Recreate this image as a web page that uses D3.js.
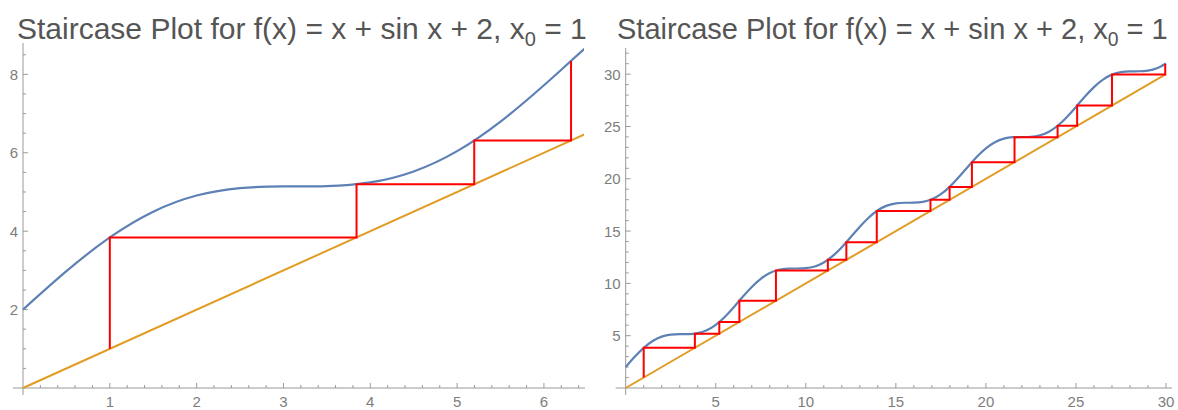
<!DOCTYPE html>
<html><head><meta charset="utf-8">
<script src="https://cdn.jsdelivr.net/npm/d3@7"></script>
<style>
html,body{margin:0;padding:0;background:#fff;}
svg{display:block;}
text{font-family:"Liberation Sans",Arial,sans-serif;}
</style></head>
<body>
<svg id="c" width="1178" height="410"></svg>
<script>
// Sampled curve f(x) = x + sin x + 2 (read values)
const curveX = [0,0.5,1,1.5,2,2.5,3,3.5,4,4.5,5,5.5,6,6.5,7,7.5,8,8.5,9,9.5,10,10.5,11,11.5,12,12.5,13,13.5,14,14.5,15,15.5,16,16.5,17,17.5,18,18.5,19,19.5,20,20.5,21,21.5,22,22.5,23,23.5,24,24.5,25,25.5,26,26.5,27,27.5,28,28.5,29,29.5,30];
const curveY = [2.000,2.979,3.841,4.498,4.909,5.099,5.141,5.149,5.243,5.523,6.041,6.795,7.721,8.715,9.657,10.438,10.989,11.299,11.412,11.425,11.456,11.620,12.000,12.625,13.463,14.434,15.420,16.304,16.991,17.435,17.650,17.707,17.712,17.788,18.039,18.524,19.249,20.162,21.150,22.106,22.913,23.497,23.837,23.972,23.991,24.013,24.154,24.502,25.094,25.909,26.868,27.859,28.763,29.479,29.956,30.199,30.271,30.276,30.336,30.559,31.012];
// Identity line endpoints
const diagX = [0, 30];
// Staircase iterates x0, x1, ...
const iterates = [1,3.8415,5.1973,6.3123,8.3414,11.2252,12.2513,13.9414,16.9222,17.9849,19.2239,21.5896,23.9804,25.0669,27.0011,29.9571,30.9633];
// Titles
const titleMain = "Staircase Plot for f(x) = x + sin x + 2, ";
// Tick labels
const leftXTicks = [1,2,3,4,5,6];
const leftYTicks = [2,4,6,8];
const rightXTicks = [5,10,15,20,25,30];
const rightYTicks = [5,10,15,20,25,30];

const BLUE = "#5e81b5", ORANGE = "#e19c24", RED = "#ff0000";
const AXIS = "#999999", LABEL = "#7d7d7d";

const svg = d3.select("#c");

function panel(cfg) {
  const x = d3.scaleLinear().domain([0, cfg.xmax]).range([cfg.x0, cfg.x1]);
  const y = d3.scaleLinear().domain([0, cfg.ymax]).range([cfg.y0, cfg.y1]);
  const g = svg.append("g");
  const id = "clip" + cfg.id;
  svg.append("defs").append("clipPath").attr("id", id)
    .append("rect").attr("x", cfg.x0 - 1).attr("y", cfg.y1 - 10)
    .attr("width", cfg.x1 - cfg.x0 + 2).attr("height", cfg.y0 - cfg.y1 + 20);

  // axes lines
  g.append("line").attr("x1", cfg.x0 - 10).attr("x2", cfg.axisXEnd)
    .attr("y1", y(0)).attr("y2", y(0)).attr("stroke", AXIS).attr("stroke-width", 1);
  g.append("line").attr("x1", x(0)).attr("x2", x(0))
    .attr("y1", y(0) + 7).attr("y2", cfg.y1).attr("stroke", AXIS).attr("stroke-width", 1);

  // x ticks
  const xMinor = d3.range(cfg.xMinor, cfg.xmax + 1e-9, cfg.xMinor);
  g.selectAll(".xm").data(xMinor).join("line")
    .attr("x1", d => x(d)).attr("x2", d => x(d))
    .attr("y1", y(0)).attr("y2", d => {
      const isMaj = Math.abs(d / cfg.xMajor - Math.round(d / cfg.xMajor)) < 1e-6;
      return y(0) - (isMaj ? 5 : 3);
    })
    .attr("stroke", AXIS);
  g.selectAll(".xl").data(cfg.xTicks).join("text")
    .attr("x", d => x(d)).attr("y", y(0) + 19)
    .attr("text-anchor", "middle").attr("font-size", 15).attr("fill", LABEL)
    .text(d => d);
  // y ticks
  const yMinor = d3.range(cfg.yMinor, cfg.ymax + 1e-9, cfg.yMinor);
  g.selectAll(".ym").data(yMinor).join("line")
    .attr("y1", d => y(d)).attr("y2", d => y(d))
    .attr("x1", x(0)).attr("x2", d => {
      const isMaj = Math.abs(d / cfg.yMajor - Math.round(d / cfg.yMajor)) < 1e-6;
      return x(0) + (isMaj ? 5 : 3);
    })
    .attr("stroke", AXIS);
  g.selectAll(".yl").data(cfg.yTicks).join("text")
    .attr("x", x(0) - 5).attr("y", d => y(d) + 5.5)
    .attr("text-anchor", "end").attr("font-size", 15).attr("fill", LABEL)
    .text(d => d);

  const pg = g.append("g").attr("clip-path", `url(#${id})`);
  // diagonal
  pg.append("path")
    .datum(diagX)
    .attr("d", d3.line().x(d => x(d)).y(d => y(d)))
    .attr("fill", "none").attr("stroke", ORANGE).attr("stroke-width", 2);
  // curve
  const pts = curveX.map((v, i) => [v, curveY[i]]).filter(p => p[0] <= cfg.xmax + 1);
  pg.append("path").datum(pts)
    .attr("d", d3.line().x(d => x(d[0])).y(d => y(d[1])).curve(d3.curveNatural))
    .attr("fill", "none").attr("stroke", BLUE).attr("stroke-width", 2.2);
  // staircase
  const its = iterates.slice(0, cfg.nIter + 1);
  const stairs = [];
  for (let i = 0; i < its.length - 1; i++) {
    stairs.push([its[i], its[i]]);
    stairs.push([its[i], its[i + 1]]);
  }
  g.append("path").datum(stairs)
    .attr("d", d3.line().x(d => x(d[0])).y(d => y(d[1])))
    .attr("fill", "none").attr("stroke", RED).attr("stroke-width", 2)
    .attr("stroke-linejoin", "miter");

  // title
  const fs = cfg.tfs;
  const t = svg.append("text").attr("x", cfg.tx).attr("y", 39)
    .attr("font-size", fs).attr("fill", "#555555");
  t.append("tspan").text(titleMain);
  t.append("tspan").text("x");
  t.append("tspan").attr("font-size", fs * 2 / 3).attr("dy", 7).text("0");
  t.append("tspan").attr("dy", -7).text(" = 1");
}

panel({id: "L", xmax: 6.45, ymax: 8.8, x0: 23, x1: 583, y0: 388, y1: 43, axisXEnd: 585,
  xMinor: 0.2, xMajor: 1, yMinor: 0.5, yMajor: 2, xTicks: leftXTicks, yTicks: leftYTicks,
  nIter: 4, tx: 17, tfs: 30});
panel({id: "R", xmax: 30, ymax: 32.5, x0: 625.7, x1: 1166, y0: 388, y1: 48, axisXEnd: 1172,
  xMinor: 1, xMajor: 5, yMinor: 1, yMajor: 5, xTicks: rightXTicks, yTicks: rightYTicks,
  nIter: 16, tx: 617, tfs: 29});
</script>
</body></html>
